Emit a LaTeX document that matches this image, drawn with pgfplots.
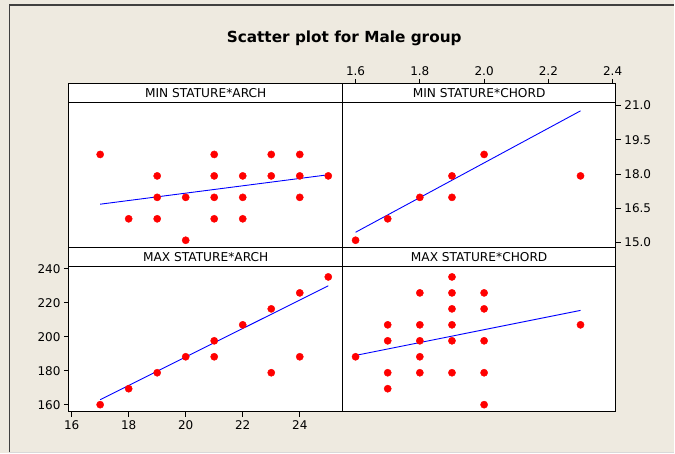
\documentclass[border=0pt]{standalone}
\usepackage{fontspec}
\setmainfont{DejaVu Sans}
\usepackage{pgfplots}
\pgfplotsset{compat=1.18}
\definecolor{bg}{HTML}{EEEAE0}
\tikzset{strip/.style={draw=black, line width=1bp, fill=white}}
\begin{document}
\begin{tikzpicture}
\fill[bg] (0,0) rectangle (675bp,-453bp);
\draw[black!75, line width=1.2bp] (9.5bp,-453bp) -- (9.5bp,-5bp) -- (675bp,-5bp);
\draw[black!15, line width=1bp] (9.5bp,-452.5bp) -- (675bp,-452.5bp);
\node[font=\bfseries\fontsize{15.3bp}{18bp}\selectfont] at (344.5bp,-38bp) {Scatter plot for Male group};
\pgfplotsset{panel/.style={scale only axis, width=273.7bp, height=164bp, anchor=south west,
  axis background/.style={fill=white}, axis line style={line width=1bp}, axis on top,
  tick align=outside, major tick length=5bp, tick style={line width=0.8bp, black},
  ticklabel style={font=\fontsize{12bp}{14bp}\selectfont},
  /pgf/number format/assume math mode=true},
  pts/.style={only marks, mark=*, mark size=3.6bp, mark options={draw=red, fill=red}},
  fit/.style={blue, line width=0.9bp, no marks}}
% top-left: MIN STATURE * ARCH
\begin{axis}[panel, at={(69bp,-248bp)}, xmin=15.905, xmax=25.495, ymin=14.77, ymax=21.95, xtick=\empty, ytick=\empty]
\addplot[pts] coordinates {(17,18.86) (18,16.04) (19,17.92) (19,16.98) (19,16.04) (20,16.98) (20,15.10)
 (21,18.86) (21,17.92) (21,16.98) (21,16.04) (22,17.92) (22,16.98) (22,16.04) (23,18.86) (23,17.92)
 (24,18.86) (24,17.92) (24,16.98) (25,17.92)};
\addplot[fit] coordinates {(17,16.68) (25,17.97)};
\draw[strip] (rel axis cs:0,1) rectangle (rel axis cs:1,0.886);
\node[font=\fontsize{12.2bp}{14bp}\selectfont] at (rel axis cs:0.5,0.943) {MIN STATURE*ARCH};
\end{axis}
% top-right: MIN STATURE * CHORD
\begin{axis}[panel, at={(342.7bp,-248bp)}, xmin=1.559, xmax=2.410, ymin=14.77, ymax=21.95,
  xtick={1.6,1.8,2.0,2.2,2.4}, ytick={15,16.5,18,19.5,21},
  xtick pos=upper, xticklabel pos=upper, ytick pos=right, yticklabel pos=right,
  xticklabel style={/pgf/number format/.cd, fixed, fixed zerofill, precision=1},
  yticklabel style={/pgf/number format/.cd, fixed, fixed zerofill, precision=1}]
\addplot[pts] coordinates {(1.6,15.10) (1.7,16.04) (1.8,16.98) (1.9,17.92) (1.9,16.98) (2.0,18.86) (2.3,17.92)};
\addplot[fit] coordinates {(1.6,15.45) (2.3,20.77)};
\draw[strip] (rel axis cs:0,1) rectangle (rel axis cs:1,0.886);
\node[font=\fontsize{12.2bp}{14bp}\selectfont] at (rel axis cs:0.5,0.943) {MIN STATURE*CHORD};
\end{axis}
% bottom-left: MAX STATURE * ARCH
\begin{axis}[panel, at={(69bp,-412bp)}, xmin=15.905, xmax=25.495, ymin=155.9, ymax=252.35,
  xtick={16,18,20,22,24}, ytick={160,180,200,220,240}, xtick pos=lower, ytick pos=left]
\addplot[pts] coordinates {(17,160.0) (18,169.4) (19,178.8) (20,188.2) (21,197.6) (21,188.2) (22,207.0)
 (23,216.4) (23,178.8) (24,225.8) (24,188.2) (25,235.2)};
\addplot[fit] coordinates {(17,162.9) (25,230.0)};
\draw[strip] (rel axis cs:0,1) rectangle (rel axis cs:1,0.886);
\node[font=\fontsize{12.2bp}{14bp}\selectfont] at (rel axis cs:0.5,0.943) {MAX STATURE*ARCH};
\end{axis}
% bottom-right: MAX STATURE * CHORD
\begin{axis}[panel, at={(342.7bp,-412bp)}, xmin=1.559, xmax=2.410, ymin=155.9, ymax=252.35, xtick=\empty, ytick=\empty]
\addplot[pts] coordinates {(1.6,188.2) (1.7,207.0) (1.7,197.6) (1.7,178.8) (1.7,169.4)
 (1.8,225.8) (1.8,207.0) (1.8,197.6) (1.8,188.2) (1.8,178.8)
 (1.9,235.2) (1.9,225.8) (1.9,216.4) (1.9,207.0) (1.9,197.6) (1.9,178.8)
 (2.0,225.8) (2.0,216.4) (2.0,197.6) (2.0,178.8) (2.0,160.0) (2.3,207.0)};
\addplot[fit] coordinates {(1.6,189.0) (2.3,215.5)};
\draw[strip] (rel axis cs:0,1) rectangle (rel axis cs:1,0.886);
\node[font=\fontsize{12.2bp}{14bp}\selectfont] at (rel axis cs:0.5,0.943) {MAX STATURE*CHORD};
\end{axis}
\end{tikzpicture}
\end{document}
